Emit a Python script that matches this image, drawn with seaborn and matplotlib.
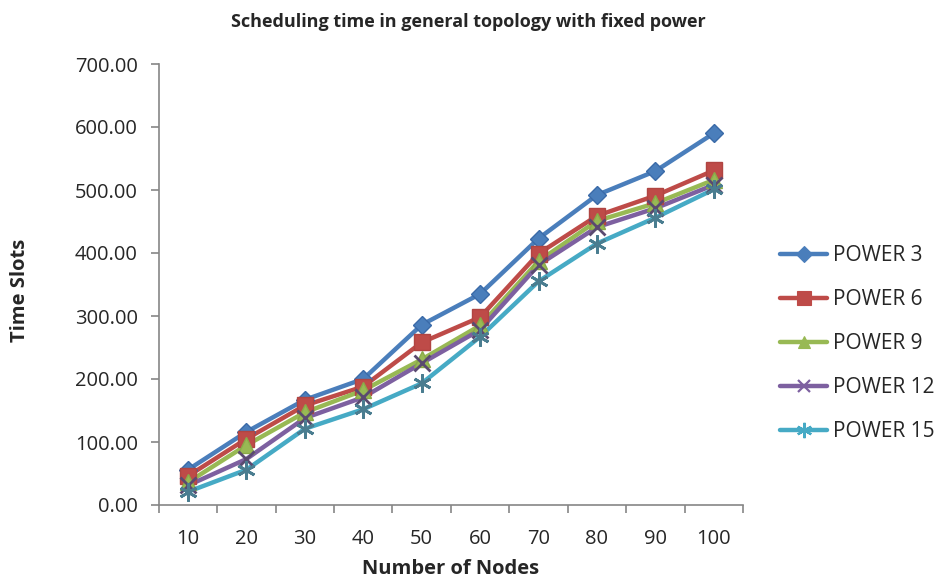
import matplotlib
matplotlib.use("Agg")
import matplotlib.pyplot as plt
import seaborn as sns
import pandas as pd
from matplotlib.ticker import FormatStrFormatter, FixedLocator

nodes = [10, 20, 30, 40, 50, 60, 70, 80, 90, 100]
power3 = [56, 116, 167, 200, 286, 335, 423, 492, 530, 590]
power6 = [46, 105, 158, 188, 258, 298, 399, 459, 491, 531]
power9 = [36, 95, 147, 182, 231, 285, 387, 451, 479, 516]
power12 = [31, 73, 138, 171, 225, 278, 381, 441, 471, 508]
power15 = [21, 56, 121, 152, 193, 267, 355, 415, 456, 501]
series_names = ["POWER 3", "POWER 6", "POWER 9", "POWER 12", "POWER 15"]
series_vals = [power3, power6, power9, power12, power15]
colors = ["#4A7EBB", "#BE4B48", "#98B954", "#7D60A0", "#46AAC5"]
edge_colors = ["#3A6AA8", "#B04542", "#8AAA48", "#5a4a70", "#4a7d90"]
markers = ["D", "s", "^", "x", (6, 2, 0)]
msizes = [9, 12, 11, 11, 13]

rows = []
for name, vals in zip(series_names, series_vals):
    for n, v in zip(nodes, vals):
        rows.append({"Nodes": n, "Time": v, "Series": name})
df = pd.DataFrame(rows)

sns.set_style("white")
plt.rcParams["font.family"] = ["Open Sans", "DejaVu Sans"]

fig = plt.figure(figsize=(9.37, 5.8), dpi=100)
ax = fig.add_axes([158.8 / 937, 75 / 580, (743 - 158.8) / 937, (505 - 64) / 580])

sns.lineplot(data=df, x="Nodes", y="Time", hue="Series", style="Series",
             palette=colors, markers=False, dashes=False, linewidth=3.2,
             legend=False, ax=ax)

handles = []
for name, vals, c, ec, m, ms in zip(series_names, series_vals, colors, edge_colors, markers, msizes):
    filled = m in ("D", "s", "^")
    mew = 1.0 if filled else 2.0
    ax.plot(nodes, vals, linestyle="none", marker=m, markersize=ms,
            markerfacecolor=c, markeredgecolor=ec, markeredgewidth=mew, zorder=3)
    lh, = ax.plot([], [], color=c, linewidth=3.2, marker=m, markersize=ms * 0.85,
                  markerfacecolor=c, markeredgecolor=c, markeredgewidth=mew * 0.8,
                  solid_capstyle="round")
    handles.append(lh)

ax.set_xlim(5, 105)
ax.set_ylim(0, 700)
ax.xaxis.set_major_locator(FixedLocator(nodes))
ax.xaxis.set_minor_locator(FixedLocator([5 + 10 * i for i in range(11)]))
ax.set_yticks(range(0, 701, 100))
ax.yaxis.set_major_formatter(FormatStrFormatter("%.2f"))
ax.tick_params(axis="x", which="major", length=0, pad=17, labelsize=14.5)
ax.tick_params(axis="x", which="minor", length=6, width=1.2, color="#868686", direction="out")
ax.tick_params(axis="y", which="major", length=6, width=1.2, color="#868686",
               direction="out", pad=9, labelsize=14.5)
ax.xaxis.set_ticks_position("bottom")
ax.yaxis.set_ticks_position("left")
for s in ["top", "right"]:
    ax.spines[s].set_visible(False)
for s in ["left", "bottom"]:
    ax.spines[s].set_color("#868686")
    ax.spines[s].set_linewidth(1.2)
ax.grid(False)

ax.set_xlabel("Number of Nodes", fontsize=14.5, fontweight="bold")
ax.set_ylabel("Time Slots", fontsize=14.5, fontweight="bold")
ax.xaxis.set_label_coords(0.5, (505 - 559) / 441)
ax.xaxis.label.set_va("top")
ax.yaxis.set_label_coords((30 - 158.8) / 584.2, (505 - 290) / 441)
fig.text(468 / 937, 1 - 22 / 580, "Scheduling time in general topology with fixed power",
         ha="center", va="center", fontsize=13, fontweight="bold")

fig.legend(handles, series_names, loc="upper left", bbox_to_anchor=(772 / 937, 1 - 237 / 580),
           frameon=False, fontsize=15, handlelength=2.26, handletextpad=0.29,
           labelspacing=1.1, borderaxespad=0)

fig.savefig("out.png", dpi=100)
